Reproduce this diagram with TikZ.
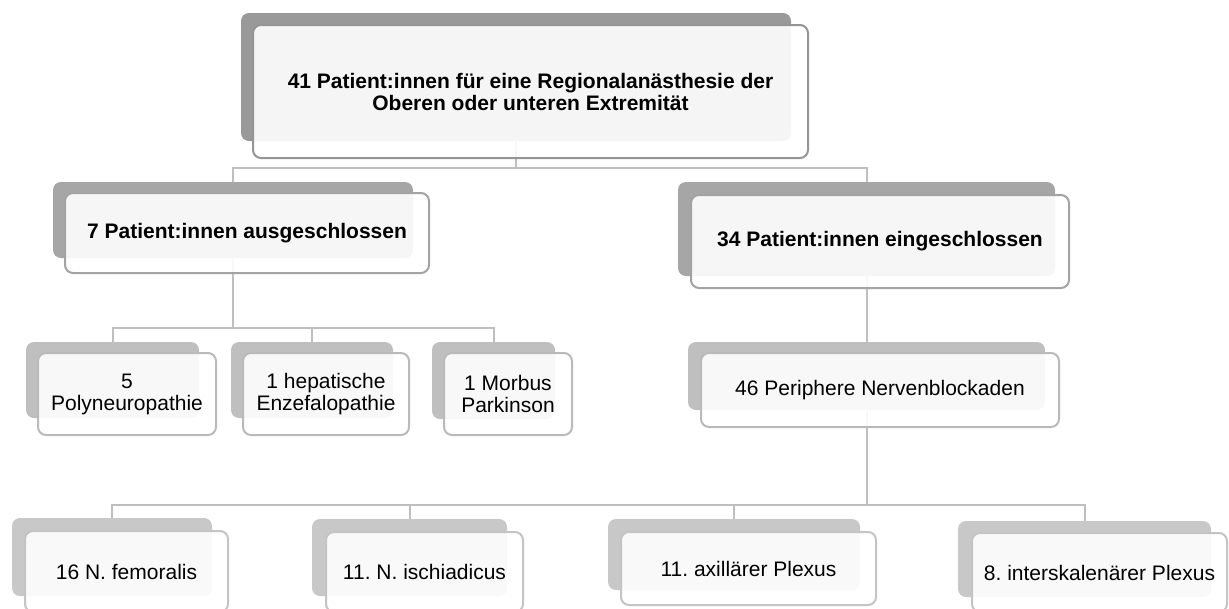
\documentclass[tikz,border=0pt]{standalone}
\usepackage{fontspec}
\setmainfont{Liberation Sans}
\usetikzlibrary{fit}
\definecolor{shadeA}{HTML}{999999}
\definecolor{shadeB}{HTML}{A6A6A6}
\definecolor{shadeC}{HTML}{BFBFBF}
\definecolor{shadeD}{HTML}{C8C8C8}
\definecolor{edgeA}{HTML}{959595}
\definecolor{edgeB}{HTML}{A3A3A3}
\definecolor{edgeC}{HTML}{BABABA}
\definecolor{edgeD}{HTML}{C4C4C4}
\definecolor{lineC}{HTML}{BFBFBF}
\newcommand\boxfont{\fontsize{15.75}{16.5}\selectfont}

\begin{document}
\frenchspacing
\begin{tikzpicture}[x=0.75pt,y=-0.75pt,
  back/.style={draw=none,fill=#1,rounded corners=6pt,inner sep=0pt},
  card/.style={draw=#1,line width=1.5pt,rounded corners=6pt,fill=white,
    fill opacity=0.9,text opacity=1,inner sep=0pt,align=center,font=\boxfont},
  head/.style={card=#1,font=\boxfont\bfseries},
  size/.style 2 args={minimum width=#1*0.75pt,minimum height=#2*0.75pt},
  link/.style={draw=lineC,line width=1.5pt}]
\useasboundingbox (0,0) rectangle (1229,608);
% shadow plates
\node[back=shadeA,fit={(241,13) (791,141)}] (topS) {};
\node[back=shadeB,fit={(53,182) (413,258)}] (exclS) {};
\node[back=shadeB,fit={(678,182) (1055,276)}] (inclS) {};
\node[back=shadeC,fit={(26,342) (199,418)}] (polyS) {};
\node[back=shadeC,fit={(231,342) (393,418)}] (hepS) {};
\node[back=shadeC,fit={(432,342) (555,419)}] (parkS) {};
\node[back=shadeC,fit={(688,342) (1045,410)}] (nervS) {};
\node[back=shadeD,fit={(12,518) (212,596)}] (femS) {};
\node[back=shadeD,fit={(312,519) (507,596)}] (ischS) {};
\node[back=shadeD,fit={(608,519) (860,590)}] (axilS) {};
\node[back=shadeD,fit={(958,521) (1211,597)}] (interS) {};
% tree lines
\draw[link] (topS.south) -- ++(0,27) coordinate (topJ) -| (exclS.north);
\draw[link] (topJ) -| (inclS.north);
\draw[link] (exclS.south) -- ++(0,70) coordinate (exclJ) -| (polyS.north);
\draw[link] (exclJ) -| (hepS.north);
\draw[link] (exclJ) -| (parkS.north);
\draw[link] (inclS.south) -- (nervS.north);
\draw[link] (nervS.south) -- ++(0,95) coordinate (nervJ) -| (femS.north);
\draw[link] (nervJ) -| (ischS.north);
\draw[link] (nervJ) -| (axilS.north);
\draw[link] (nervJ) -| (interS.north);
% front cards
\node[head=edgeA,size={555}{133}] (top) at (530.5,91.5)
  {41 Patient:innen für eine Regionalanästhesie der\\Oberen oder unteren Extremität};
\node[head=edgeB,size={364}{80}] (excl) at (247,233) {7 Patient:innen ausgeschlossen};
\node[head=edgeB,size={378}{93}] (incl) at (880,241.5) {34 Patient:innen eingeschlossen};
\node[card=edgeC,size={178}{82}] (poly) at (127,394) {5\\Polyneuropathie};
\node[card=edgeC,size={166}{82}] (hep) at (326,394) {1 hepatische\\Enzefalopathie};
\node[card=edgeC,size={128}{82}] (park) at (508,394) {1 Morbus\\Parkinson};
\node[card=edgeC,size={358}{74}] (nerv) at (880,390) {46 Periphere Nervenblockaden};
\node[card=edgeD,size={203}{81}] (fem) at (126.5,571.5) {16 N. femoralis};
\node[card=edgeD,size={197}{80}] (isch) at (424.5,572) {11. N. ischiadicus};
\node[card=edgeD,size={255}{73}] (axil) at (748.5,568.5) {11. axillärer Plexus};
\node[card=edgeD,size={255}{79}] (inter) at (1099.5,572.5) {8. interskalenärer Plexus};
\end{tikzpicture}
\end{document}
